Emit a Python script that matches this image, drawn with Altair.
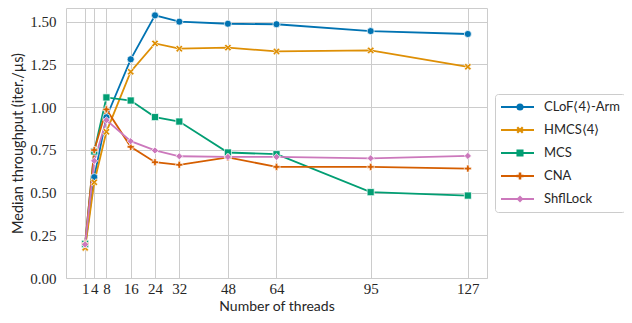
import altair as alt
import pandas as pd

threads = [1, 4, 8, 16, 24, 32, 48, 64, 95, 127]
series_names = ["CLoF⟨4⟩-Arm", "HMCS⟨4⟩", "MCS", "CNA", "ShflLock"]
clof = [0.19, 0.59, 0.94, 1.279, 1.536, 1.499, 1.487, 1.484, 1.444, 1.427]
hmcs = [0.176, 0.56, 0.855, 1.206, 1.372, 1.341, 1.347, 1.325, 1.331, 1.235]
mcs = [0.20, 0.74, 1.056, 1.038, 0.941, 0.915, 0.734, 0.724, 0.502, 0.482]
cna = [0.20, 0.748, 0.986, 0.767, 0.677, 0.662, 0.705, 0.65, 0.65, 0.64]
shfl = [0.196, 0.685, 0.923, 0.80, 0.746, 0.712, 0.708, 0.708, 0.70, 0.714]
y_ticks = [0, 0.25, 0.5, 0.75, 1.0, 1.25, 1.5]

colors = ["#0173b2", "#de8f05", "#029e73", "#d55e00", "#cc78bc"]
X_PATH = "M-0.55,-1L0,-0.45L0.55,-1L1,-0.55L0.45,0L1,0.55L0.55,1L0,0.45L-0.55,1L-1,0.55L-0.45,0L-1,-0.55Z"
PLUS_PATH = "M-0.36,-1L0.36,-1L0.36,-0.36L1,-0.36L1,0.36L0.36,0.36L0.36,1L-0.36,1L-0.36,0.36L-1,0.36L-1,-0.36L-0.36,-0.36Z"
shapes = ["circle", X_PATH, "square", PLUS_PATH, "diamond"]

rows = []
for name, vals in zip(series_names, [clof, hmcs, mcs, cna, shfl]):
    for t, v in zip(threads, vals):
        rows.append({"threads": t, "tp": v, "lock": name, "lock_m": name + " "})
df = pd.DataFrame(rows)
marker_names = [n + " " for n in series_names]

x = alt.X("threads:Q",
          scale=alt.Scale(domain=[-5.3, 133.3], nice=False, zero=False),
          axis=alt.Axis(values=threads, title="Number of threads", ticks=False, domain=False,
                        labelOverlap=False, labelFlush=False, labelPadding=3, titlePadding=3,
                        titleFontSize=14))
y = alt.Y("tp:Q",
          scale=alt.Scale(domain=[0, 1.579], nice=False, zero=False),
          axis=alt.Axis(values=y_ticks, format=".2f", title="Median throughput (iter./µs)",
                        ticks=False, domain=False, labelPadding=10, titlePadding=4))

color_legend = alt.Legend(title=None, orient="none", legendX=429, legendY=86,
                          symbolType="stroke", symbolSize=1089, symbolStrokeWidth=2,
                          padding=5, clipHeight=16, rowPadding=7, labelOffset=9,
                          strokeColor="#cccccc", cornerRadius=3)
marker_legend = alt.Legend(title=None, orient="none", legendX=442.5, legendY=86,
                           padding=5, clipHeight=16, rowPadding=7, labelOffset=9,
                           labelExpr="''", symbolSize=50, symbolStrokeColor="white",
                           symbolStrokeWidth=0.5, symbolOpacity=1)

base = alt.Chart(df)
lines = base.mark_line(strokeWidth=1.8).encode(
    x=x, y=y,
    color=alt.Color("lock:N", scale=alt.Scale(domain=series_names, range=colors), legend=color_legend),
    detail="lock:N",
)
points = base.mark_point(filled=True, size=50, stroke="white", strokeWidth=0.7, opacity=1).encode(
    x=x, y=y,
    fill=alt.Fill("lock_m:N", scale=alt.Scale(domain=marker_names, range=colors), legend=marker_legend),
    shape=alt.Shape("lock_m:N", scale=alt.Scale(domain=marker_names, range=shapes), legend=marker_legend),
)

chart = alt.layer(lines, points).properties(
    width=421, height=270,
    autosize=alt.AutoSizeParams(type="none"),
    padding={"left": 58, "top": 0, "right": 137, "bottom": 37},
).configure_view(
    stroke="#cccccc", strokeWidth=1
).configure_axis(
    gridColor="#cccccc", gridWidth=1,
    labelFont="Liberation Serif", labelFontSize=15, labelColor="#262626",
    titleFont="Lato", titleFontSize=14.5, titleFontWeight="normal", titleColor="#262626",
).configure_legend(
    labelFont="Lato", labelFontSize=13, labelColor="#262626",
)

chart.save("out.html", embed_options={"renderer": "svg", "actions": False})
